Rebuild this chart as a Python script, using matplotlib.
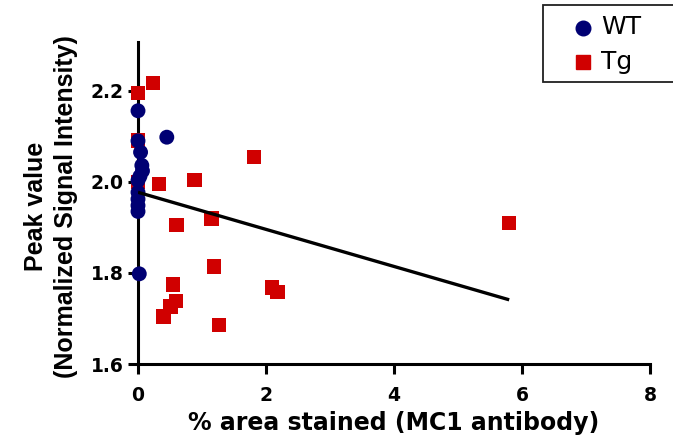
import matplotlib
matplotlib.use("Agg")
import matplotlib.pyplot as plt
from matplotlib.lines import Line2D
from matplotlib.patches import Rectangle
import numpy as np

plt.rcParams['font.family'] = ['DejaVu Sans']
plt.rcParams['font.weight'] = 'bold'

# WT group: % area stained vs. normalized peak signal
wt_x = [0.0, 0.45, 0.0, 0.04, 0.06, 0.07, 0.03, 0.0, 0.0, 0.0, 0.0, 0.0, 0.02]
wt_y = [2.156, 2.098, 2.090, 2.065, 2.036, 2.024, 2.012, 2.003, 1.977, 1.962, 1.948, 1.935, 1.798]

# Tg group
tg_x = [0.0, 0.23, 0.0, 0.0, 0.33, 0.88, 1.81, 5.80, 1.15, 0.60, 1.19, 0.55,
        0.59, 0.51, 0.40, 1.27, 2.09, 2.18]
tg_y = [2.195, 2.217, 2.091, 2.000, 1.995, 2.004, 2.054, 1.909, 1.919, 1.905,
        1.814, 1.775, 1.738, 1.726, 1.704, 1.686, 1.768, 1.758]

# Linear regression line
fit_intercept = 1.977
fit_slope = -0.0407

x_ticks = [0, 2, 4, 6, 8]
y_ticks = [1.6, 1.8, 2.0, 2.2]
group_names = ['WT', 'Tg']

WT_COLOR = '#000073'
TG_COLOR = '#D00000'

W, H = 673, 442
fig = plt.figure(figsize=(W / 100, H / 100), dpi=100)
ax = fig.add_axes([138 / W, 1 - 364 / H, (650 - 138) / W, (364 - 42) / H])

ax.scatter(tg_x, tg_y, marker='s', s=108, color=TG_COLOR, edgecolors='none',
           zorder=4, clip_on=False)
ax.scatter(wt_x, wt_y, marker='o', s=115, color=WT_COLOR, edgecolors='none',
           zorder=5, clip_on=False)

xs = np.array([0.0, max(tg_x)])
ax.plot(xs, fit_intercept + fit_slope * xs, color='black', lw=2.4, zorder=6,
        solid_capstyle='butt')

ax.set_xlim(0, 8)
ax.set_ylim(1.6, 2.307)
ax.set_xticks(x_ticks)
ax.set_yticks(y_ticks)
ax.set_xticklabels([str(t) for t in x_ticks])
ax.set_yticklabels([f"{t:.1f}" for t in y_ticks])

for side in ('top', 'right'):
    ax.spines[side].set_visible(False)
for side in ('left', 'bottom'):
    ax.spines[side].set_linewidth(2.2)
    ax.spines[side].set_color('black')
ax.tick_params(axis='both', which='major', length=7.5, width=2.2, color='black',
               labelsize=13.5)
ax.tick_params(axis='x', pad=8)
ax.tick_params(axis='y', pad=3)
for lab in ax.get_xticklabels() + ax.get_yticklabels():
    lab.set_fontweight('bold')

ax.set_xlabel('% area stained (MC1 antibody)', fontsize=17, fontweight='bold',
              labelpad=5)
ax.set_ylabel('Peak value\n(Normalized Signal Intensity)', fontsize=18,
              fontweight='bold', linespacing=1.3, family='Liberation Sans')
ax.yaxis.set_label_coords(-0.117, 0.49)

# Legend box, drawn in figure pixel coordinates
def fx(px):
    return px / W

def fy(py):
    return 1 - py / H

fig.add_artist(Rectangle((fx(543), fy(82)), fx(700) - fx(543), fy(5) - fy(82),
                         transform=fig.transFigure, facecolor='white',
                         edgecolor='#202020', linewidth=1.3, zorder=10))
fig.add_artist(Line2D([fx(583)], [fy(28)], marker='o', markersize=10.5,
                      color=WT_COLOR, linestyle='none', transform=fig.transFigure,
                      zorder=11))
fig.add_artist(Line2D([fx(583)], [fy(62)], marker='s', markersize=9.5,
                      color=TG_COLOR, linestyle='none', transform=fig.transFigure,
                      zorder=11))
fig.text(fx(601), fy(34), group_names[0], fontsize=18, fontweight='normal',
         va='baseline', ha='left', zorder=12)
fig.text(fx(601), fy(69), group_names[1], fontsize=18, fontweight='normal',
         va='baseline', ha='left', zorder=12)

fig.savefig('out.png', dpi=100)
